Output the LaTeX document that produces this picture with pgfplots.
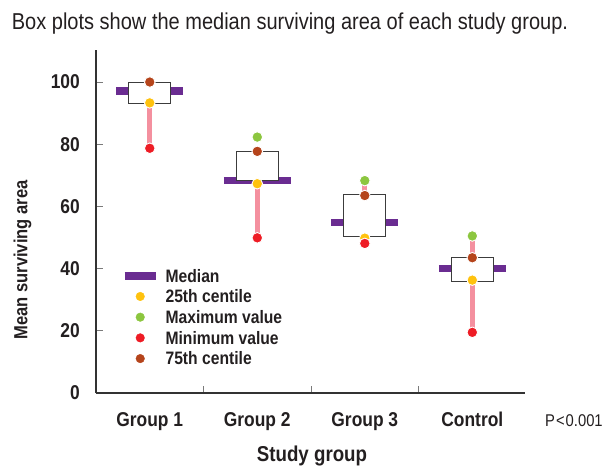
\documentclass[border=0pt]{standalone}
\usepackage{fontspec}
\setmainfont[FakeStretch=0.87]{Liberation Sans}
\usepackage{pgfplots}
\pgfplotsset{compat=1.18}
\definecolor{medpurple}{HTML}{6A2C91}
\definecolor{cyellow}{HTML}{FFC20E}
\definecolor{cgreen}{HTML}{8CC63F}
\definecolor{cred}{HTML}{EE1C25}
\definecolor{cbrown}{HTML}{B5441B}
\definecolor{cpink}{HTML}{F4909F}
\definecolor{boxgray}{HTML}{3C3C3C}
\definecolor{axisgray}{HTML}{333333}
\definecolor{tickgray}{HTML}{7A7A7A}
\definecolor{txt}{HTML}{231F20}
\begin{document}
\begin{tikzpicture}
\useasboundingbox (-96pt,-74pt) rectangle (517pt,393pt);
\begin{axis}[
  at={(0pt,0pt)}, anchor=south west,
  scale only axis, width=429pt, height=343pt,
  xmin=-0.5, xmax=3.49, ymin=0, ymax=110.3,
  axis x line*=bottom, axis y line*=left,
  axis line style={draw=axisgray, line width=1.3pt, -},
  clip=false,
  tick align=inside, major tick length=7pt,
  tick style={draw=tickgray, line width=1pt},
  ytick={0,20,40,60,80,100},
  xtick={0.5,1.5,2.5}, xticklabels={},
  extra x ticks={0,1,2,3},
  extra x tick labels={Group 1,Group 2,Group 3,Control},
  extra x tick style={major tick length=0pt},
  tick label style={font=\fontsize{20}{24}\selectfont\bfseries, text=txt, /pgf/number format/assume math mode=true},
  yticklabel style={anchor=east, inner sep=0pt, xshift=-16pt},
  xticklabel style={anchor=base, inner sep=0pt, yshift=-33.7pt},
  legend style={draw=none, fill=none, inner sep=0pt, outer sep=0pt,
    at={(0.058,0.36)}, anchor=north west,
    column sep=6pt, row sep=8.2pt,
    nodes={inner sep=0pt, text height=12.5pt, text depth=0pt, font=\fontsize{18}{21}\selectfont\bfseries, text=txt}},
  legend cell align=left,
]
% whiskers
\addplot[draw=cpink, line width=5pt, forget plot] coordinates {(0,93.3) (0,78.7)};
\addplot[draw=cpink, line width=5pt, forget plot] coordinates {(1,67.3) (1,49.9)};
\addplot[draw=cpink, line width=5pt, forget plot] coordinates {(2,49.8) (2,48.1)};
\addplot[draw=cpink, line width=5pt, forget plot] coordinates {(2,68.3) (2,63.5)};
\addplot[draw=cpink, line width=5pt, forget plot] coordinates {(3,36.3) (3,19.5)};
\addplot[draw=cpink, line width=5pt, forget plot] coordinates {(3,50.5) (3,43.5)};
% median bars
\addplot[draw=medpurple, line width=7.7pt, forget plot] coordinates {(-0.31,97.2) (0.31,97.2)};
\addplot[draw=medpurple, line width=7.7pt, forget plot] coordinates {(0.69,68.3) (1.31,68.3)};
\addplot[draw=medpurple, line width=7.7pt, forget plot] coordinates {(1.69,54.8) (2.31,54.8)};
\addplot[draw=medpurple, line width=7.7pt, forget plot] coordinates {(2.69,40.0) (3.31,40.0)};
% boxes
\addplot[draw=boxgray, fill=white, line width=1.1pt, forget plot] coordinates {(-0.195,93.2) (0.195,93.2) (0.195,99.9) (-0.195,99.9)} --cycle;
\addplot[draw=boxgray, fill=white, line width=1.1pt, forget plot] coordinates {(0.805,68.3) (1.195,68.3) (1.195,77.6) (0.805,77.6)} --cycle;
\addplot[draw=boxgray, fill=white, line width=1.1pt, forget plot] coordinates {(1.805,50.2) (2.195,50.2) (2.195,63.9) (1.805,63.9)} --cycle;
\addplot[draw=boxgray, fill=white, line width=1.1pt, forget plot] coordinates {(2.805,35.9) (3.195,35.9) (3.195,43.7) (2.805,43.7)} --cycle;
% markers
\addplot[only marks, mark=*, mark size=5.3pt, mark options={fill=cyellow, draw=white, line width=0.9pt}, forget plot] coordinates {(0,93.3) (1,67.3) (2,49.8) (3,36.3)};
\addplot[only marks, mark=*, mark size=5.3pt, mark options={fill=cgreen, draw=white, line width=0.9pt}, forget plot] coordinates {(0,100.0) (1,82.3) (2,68.3) (3,50.5)};
\addplot[only marks, mark=*, mark size=5.3pt, mark options={fill=cred, draw=white, line width=0.9pt}, forget plot] coordinates {(0,78.7) (1,49.9) (2,48.1) (3,19.5)};
\addplot[only marks, mark=*, mark size=5.3pt, mark options={fill=cbrown, draw=white, line width=0.9pt}, forget plot] coordinates {(0,100.0) (1,77.7) (2,63.5) (3,43.5)};
% legend
\addlegendimage{legend image code/.code={\draw[medpurple, line width=7.7pt] (0pt,0pt) -- (31pt,0pt);}}
\addlegendentry{Median}
\addlegendimage{legend image code/.code={\fill[cyellow] (15.5pt,0pt) circle (4.3pt);}}
\addlegendentry{25th centile}
\addlegendimage{legend image code/.code={\fill[cgreen] (15.5pt,0pt) circle (4.3pt);}}
\addlegendentry{Maximum value}
\addlegendimage{legend image code/.code={\fill[cred] (15.5pt,0pt) circle (4.3pt);}}
\addlegendentry{Minimum value}
\addlegendimage{legend image code/.code={\fill[cbrown] (15.5pt,0pt) circle (4.3pt);}}
\addlegendentry{75th centile}
\end{axis}
\node[anchor=base west, inner sep=0pt, text=txt, font=\fontsize{23}{27}\selectfont] at (-84.3pt,363.7pt) {Box plots show the median surviving area of each study group.};
\node[rotate=90, anchor=base, inner sep=0pt, text=txt, font=\fontsize{19}{23}\selectfont\bfseries] at (-68.7pt,133pt) {Mean surviving area};
\node[anchor=base, inner sep=0pt, text=txt, font=\fontsize{21.5}{25}\selectfont\bfseries] at (216pt,-68.7pt) {Study group};
\node[anchor=base west, inner sep=0pt, text=txt, font=\fontsize{17}{20}\selectfont] at (449pt,-33.7pt) {P\kern1pt<\kern1pt0.001};
\end{tikzpicture}
\end{document}
